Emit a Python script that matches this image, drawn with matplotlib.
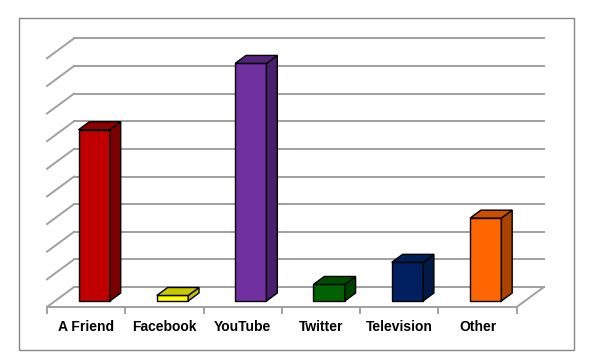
import matplotlib
matplotlib.use("Agg")
import matplotlib.pyplot as plt
from matplotlib.patches import Polygon, Rectangle

categories = ["A Friend", "Facebook", "YouTube", "Twitter", "Television", "Other"]
values = [31, 1, 43, 3, 7, 15]
grid_values = [0, 5, 10, 15, 20, 25, 30, 35, 40, 45]

front_colors = ["#C00000", "#FFFF00", "#7030A0", "#006100", "#002060", "#FF6600"]
side_colors = ["#7A0000", "#C0C000", "#4A1F6B", "#004000", "#001A45", "#A84300"]
top_colors = ["#8C0000", "#C8C800", "#55247A", "#004D00", "#00205A", "#C85200"]

# oblique depth offset (full floor depth) in data units
DX, DY = 0.345, 3.6
bar_w = 0.4
d0, d1 = 0.3, 0.7
grid_col = "#A0A0A0"


def proj(x, v, d):
    return (x + d * DX, v + d * DY)


fig = plt.figure(figsize=(6.05, 3.6), dpi=100)
ax = fig.add_axes([0, 0, 1, 1])
ax.set_xlim(-1.1003, 6.627)
ax.set_ylim(-9.6, 55.55)
ax.axis("off")

# outer chart border
fig.patches.append(Rectangle((19 / 605, 10 / 360), 555 / 605, 332 / 360,
                             transform=fig.transFigure, fill=False,
                             edgecolor="#868686", linewidth=1.0))

left, right = -0.5, len(categories) - 0.5

# back wall gridlines and left wall diagonals
for g in grid_values:
    x0, y0 = proj(left, g, 1)
    x1, y1 = proj(right, g, 1)
    ax.plot([x0, x1], [y0, y1], color=grid_col, lw=1.4, zorder=1)
    xa, ya = proj(left, g, 0)
    ax.plot([xa, x0], [ya, y0], color=grid_col, lw=1.4, zorder=1)

# floor front edge, right edge and tick marks
ax.plot([left, right], [0, 0], color=grid_col, lw=1.4, zorder=1)
xr, yr = proj(right, 0, 1)
ax.plot([right, xr], [0, yr], color=grid_col, lw=1.4, zorder=1)
for i in range(len(categories) + 1):
    ax.plot([i - 0.5, i - 0.5], [0, -1.1], color=grid_col, lw=1.4, zorder=1)

# 3D bars
for i, (v, fc, sc, tc) in enumerate(zip(values, front_colors, side_colors, top_colors)):
    xl, xr_ = i - bar_w / 2, i + bar_w / 2
    front = [proj(xl, 0, d0), proj(xr_, 0, d0), proj(xr_, v, d0), proj(xl, v, d0)]
    side = [proj(xr_, 0, d0), proj(xr_, 0, d1), proj(xr_, v, d1), proj(xr_, v, d0)]
    top = [proj(xl, v, d0), proj(xr_, v, d0), proj(xr_, v, d1), proj(xl, v, d1)]
    for pts, col in ((front, fc), (side, sc), (top, tc)):
        ax.add_patch(Polygon(pts, closed=True, facecolor=col, edgecolor="black",
                             linewidth=1.0, joinstyle="miter", zorder=3))

# category labels
for i, c in enumerate(categories):
    ax.annotate(c, (i, 0), xytext=(0, -14.5), textcoords="offset points",
                ha="center", va="center", fontsize=10, fontweight="bold",
                family="Liberation Sans", color="black")

fig.savefig("out.png", dpi=100)
